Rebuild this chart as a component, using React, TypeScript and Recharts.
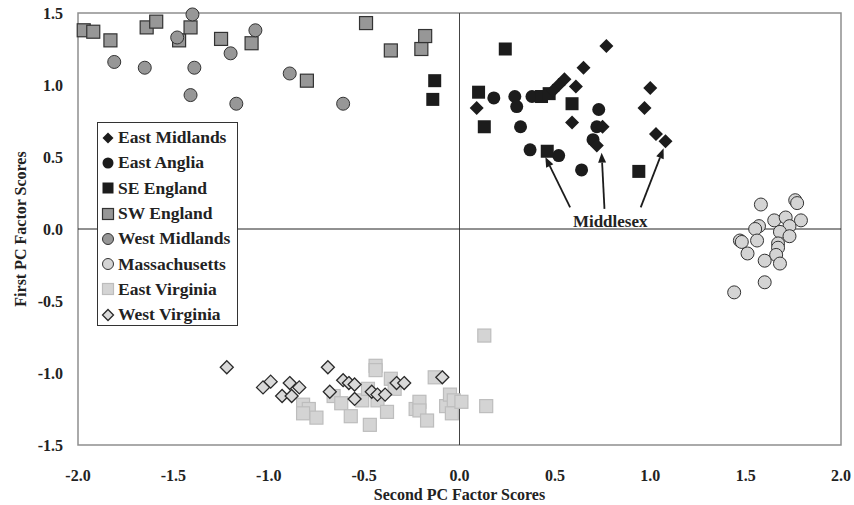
import React from 'react';
import {
  ScatterChart, Scatter, XAxis, YAxis, ReferenceLine, ReferenceArea, ReferenceDot,
} from 'recharts';

// [second PC, first PC] pairs
const eastMidlands = [
  [0.77, 1.27], [0.65, 1.12], [0.61, 0.99], [0.55, 1.04], [0.52, 1.0], [0.49, 0.96],
  [0.09, 0.84], [0.59, 0.74], [0.75, 0.71], [0.72, 0.58], [1.0, 0.98], [0.97, 0.84],
  [1.03, 0.66], [1.08, 0.61],
];
const eastAnglia = [
  [0.18, 0.91], [0.29, 0.92], [0.3, 0.85], [0.38, 0.92], [0.32, 0.71], [0.37, 0.55],
  [0.52, 0.51], [0.64, 0.41], [0.73, 0.83], [0.72, 0.71], [0.7, 0.62],
];
const seEngland = [
  [-0.13, 1.03], [-0.14, 0.9], [0.24, 1.25], [0.1, 0.95], [0.13, 0.71], [0.43, 0.92],
  [0.47, 0.94], [0.59, 0.87], [0.46, 0.54], [0.94, 0.4],
];
const swEngland = [
  [-1.97, 1.38], [-1.92, 1.37], [-1.83, 1.31], [-1.64, 1.4], [-1.59, 1.44], [-1.47, 1.31],
  [-1.41, 1.4], [-1.25, 1.32], [-1.09, 1.29], [-0.8, 1.03], [-0.49, 1.43], [-0.36, 1.24],
  [-0.2, 1.25], [-0.18, 1.34],
];
const westMidlands = [
  [-1.4, 1.49], [-1.48, 1.33], [-1.07, 1.38], [-1.2, 1.22], [-1.81, 1.16], [-1.65, 1.12],
  [-1.39, 1.12], [-1.41, 0.93], [-1.17, 0.87], [-0.89, 1.08], [-0.61, 0.87],
];
const massachusetts = [
  [1.58, 0.17], [1.76, 0.2], [1.77, 0.18], [1.65, 0.06], [1.71, 0.08], [1.79, 0.06],
  [1.57, 0.02], [1.55, 0.0], [1.73, 0.02], [1.68, -0.02], [1.73, -0.05], [1.47, -0.08],
  [1.48, -0.09], [1.56, -0.08], [1.67, -0.1], [1.67, -0.13], [1.51, -0.17], [1.66, -0.18],
  [1.6, -0.22], [1.68, -0.24], [1.6, -0.37], [1.44, -0.44],
];
const eastVirginia = [
  [-0.44, -0.95], [-0.44, -0.98], [-0.36, -1.04], [-0.13, -1.03], [-0.82, -1.22],
  [-0.79, -1.25], [-0.82, -1.28], [-0.75, -1.31], [-0.66, -1.16], [-0.62, -1.21],
  [-0.57, -1.3], [-0.51, -1.19], [-0.48, -1.11], [-0.43, -1.19], [-0.47, -1.36],
  [-0.38, -1.27], [-0.34, -1.11], [-0.23, -1.25], [-0.21, -1.2], [-0.21, -1.26],
  [-0.17, -1.33], [-0.07, -1.23], [-0.05, -1.15], [-0.03, -1.19], [-0.04, -1.28],
  [0.01, -1.2], [0.14, -1.23], [0.13, -0.74],
];
const westVirginia = [
  [-1.22, -0.96], [-1.03, -1.1], [-0.99, -1.06], [-0.89, -1.07], [-0.84, -1.1],
  [-0.93, -1.16], [-0.88, -1.16], [-0.69, -0.96], [-0.68, -1.13], [-0.61, -1.05],
  [-0.58, -1.07], [-0.55, -1.08], [-0.55, -1.18], [-0.46, -1.13], [-0.43, -1.15],
  [-0.39, -1.15], [-0.33, -1.07], [-0.29, -1.07], [-0.09, -1.03],
];

// Middlesex arrows: [tailX, tailY, tipX, tipY]
const middlesexArrows = [
  [0.58, 0.15, 0.45, 0.5],
  [0.76, 0.14, 0.745, 0.53],
  [0.95, 0.15, 1.07, 0.56],
];

const xTicks = [-2, -1.5, -1, -0.5, 0, 0.5, 1, 1.5, 2];
const yTicks = [-1.5, -1, -0.5, 0, 0.5, 1, 1.5];

const FONT = '"Liberation Serif", "Times New Roman", serif';
const toPts = (arr: number[][]) => arr.map(([x, y]) => ({ x, y }));

const circle = (fill: string, stroke: string) => (p: any) => (
  <circle cx={p.cx} cy={p.cy} r={6.5} fill={fill} stroke={stroke} strokeWidth={stroke === 'none' ? 0 : 1} />
);
const square = (fill: string, stroke: string) => (p: any) => (
  <rect x={p.cx - 6.5} y={p.cy - 6.5} width={13} height={13} fill={fill} stroke={stroke} strokeWidth={stroke === 'none' ? 0 : 1.2} />
);
const diamond = (fill: string, stroke: string, h = 7) => (p: any) => (
  <polygon points={`${p.cx},${p.cy - h} ${p.cx + h},${p.cy} ${p.cx},${p.cy + h} ${p.cx - h},${p.cy}`}
    fill={fill} stroke={stroke} strokeWidth={stroke === 'none' ? 0 : 1.3} />
);

const series = [
  { name: 'East Midlands', data: eastMidlands, kind: 'diamond', fill: '#1c1c1c', stroke: 'none' },
  { name: 'East Anglia', data: eastAnglia, kind: 'circle', fill: '#1c1c1c', stroke: 'none' },
  { name: 'SE England', data: seEngland, kind: 'square', fill: '#1c1c1c', stroke: 'none' },
  { name: 'SW England', data: swEngland, kind: 'square', fill: '#979797', stroke: '#333' },
  { name: 'West Midlands', data: westMidlands, kind: 'circle', fill: '#979797', stroke: '#333' },
  { name: 'Massachusetts', data: massachusetts, kind: 'circle', fill: '#d4d4d4', stroke: '#333' },
  { name: 'East Virginia', data: eastVirginia, kind: 'square', fill: '#d4d4d4', stroke: '#bdbdbd' },
  { name: 'West Virginia', data: westVirginia, kind: 'diamond', fill: '#d9d9d9', stroke: '#2a2a2a' },
];

const shapeFor = (s: any) =>
  s.kind === 'circle' ? circle(s.fill, s.stroke) : s.kind === 'square' ? square(s.fill, s.stroke) : diamond(s.fill, s.stroke, s.stroke === 'none' ? 7 : 6.5);

// draw order: back to front
const drawOrder = ['SW England', 'West Midlands', 'Massachusetts', 'East Virginia', 'West Virginia', 'East Anglia', 'SE England', 'East Midlands'];

const LegendIcon = ({ s }: { s: any }) => {
  let icon;
  if (s.kind === 'circle') icon = <circle cx={7} cy={8} r={5.5} fill={s.fill} stroke={s.stroke} strokeWidth={s.stroke === 'none' ? 0 : 1} />;
  else if (s.kind === 'square') icon = <rect x={1.5} y={2.5} width={11} height={11} fill={s.fill} stroke={s.stroke} strokeWidth={s.stroke === 'none' ? 0 : 1.2} />;
  else icon = diamond(s.fill, s.stroke, 5.5)({ cx: 7, cy: 8 });
  return (
    <svg width={15} height={16} style={{ marginRight: 2, flexShrink: 0 }}>{icon}</svg>
  );
};

const arrowShape = (p: any) => {
  const { x1, y1, x2, y2 } = p;
  const ang = Math.atan2(y2 - y1, x2 - x1);
  const len = 10, w = 4;
  const bx = x2 - len * Math.cos(ang), by = y2 - len * Math.sin(ang);
  const px = -Math.sin(ang) * w, py = Math.cos(ang) * w;
  return (
    <g>
      <line x1={x1} y1={y1} x2={bx} y2={by} stroke="#1c1c1c" strokeWidth={1.8} />
      <polygon points={`${x2},${y2} ${bx + px},${by + py} ${bx - px},${by - py}`} fill="#1c1c1c" />
    </g>
  );
};

const YTitle = ({ viewBox }: any) => (
  <text x={20} y={viewBox.y + viewBox.height / 2} transform={`rotate(-90, 20, ${viewBox.y + viewBox.height / 2})`}
    textAnchor="middle" dominantBaseline="central" fontFamily={FONT} fontWeight="bold" fontSize={16} fill="#222">
    First PC Factor Scores
  </text>
);

export default function App() {
  const tick = { fontFamily: FONT, fontWeight: 'bold' as const, fontSize: 16, fill: '#222' };
  return (
    <div style={{ position: 'absolute', left: 0, top: 0, width: 854, height: 505, background: '#fff' }}>
      <ScatterChart width={854} height={505} margin={{ top: 13, right: 13, bottom: 0, left: 18 }}>
        <XAxis type="number" dataKey="x" domain={[-2, 2]} ticks={xTicks} tickFormatter={(v) => v.toFixed(1)}
          axisLine={false} tickLine={false} tickSize={0} tickMargin={25} height={60} tick={tick} interval={0}
          label={{ value: 'Second PC Factor Scores', position: 'insideBottom', offset: 5, style: { ...tick, textAnchor: 'middle' } }} />
        <YAxis type="number" dataKey="y" domain={[-1.5, 1.5]} ticks={yTicks} tickFormatter={(v) => v.toFixed(1)}
          axisLine={false} tickLine={false} tickSize={0} tickMargin={15} width={60} tick={tick} interval={0}
          label={<YTitle />} />
        <ReferenceArea x1={-2} x2={2} y1={-1.5} y2={1.5} fill="none" stroke="#8e8e8e" strokeWidth={1.5} fillOpacity={0} />
        <ReferenceLine x={0} stroke="#444" strokeWidth={1} />
        <ReferenceLine y={0} stroke="#222" strokeWidth={1} />
        {drawOrder.map((n) => {
          const s = series.find((q) => q.name === n)!;
          return (
            <Scatter key={n} name={n} data={toPts(s.data)} shape={shapeFor(s)} isAnimationActive={false} />
          );
        })}
        {middlesexArrows.map((a, i) => (
          <ReferenceLine key={i} segment={[{ x: a[0], y: a[1] }, { x: a[2], y: a[3] }]} shape={arrowShape} />
        ))}
        <ReferenceDot x={0.79} y={0.05} r={0}
          shape={(p: any) => (
            <text x={p.cx} y={p.cy} textAnchor="middle" dominantBaseline="central"
              fontFamily={FONT} fontWeight="bold" fontSize={17} fill="#222">Middlesex</text>
          )} />
      </ScatterChart>
      <div style={{
        position: 'absolute', left: 97, top: 122, width: 141, height: 204, background: '#fff',
        border: '1px solid #333', padding: '2px 0 0 3px', boxSizing: 'border-box',
        fontFamily: FONT, fontWeight: 'bold', fontSize: 17.5, color: '#222',
      }}>
        {series.map((s) => (
          <div key={s.name} style={{ display: 'flex', alignItems: 'center', height: 25.3, whiteSpace: 'nowrap' }}>
            <LegendIcon s={s} />
            <span>{s.name}</span>
          </div>
        ))}
      </div>
    </div>
  );
}
